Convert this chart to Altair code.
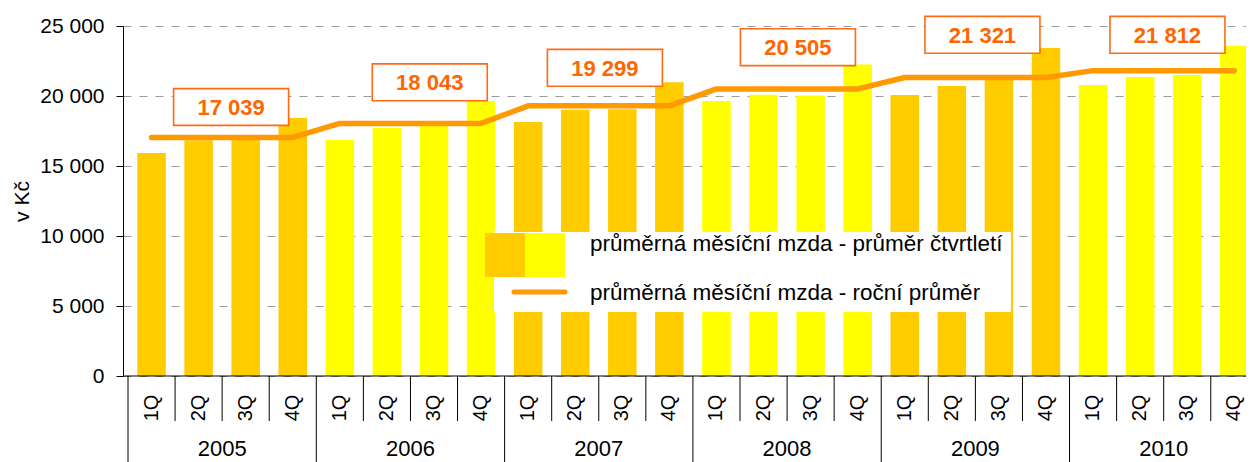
import altair as alt
import pandas as pd

# ---------------- data ----------------
years = ["2005", "2006", "2007", "2008", "2009", "2010"]
quarters = ["1Q", "2Q", "3Q", "4Q"]
quarterly_wage = [
    15930, 16840, 16950, 18430,
    16860, 17710, 17960, 19640,
    18150, 19020, 19050, 20980,
    19650, 20090, 20030, 22250,
    20070, 20710, 21140, 23430,
    20790, 21360, 21500, 23590,
]
annual_avg = [17039, 18043, 19299, 20505, 21321, 21812]
# anchor of the value boxes (quarter index, value units)
label_anchor_q = [1.69, 5.91, 9.63, 13.73, 17.65, 21.58]
label_anchor_value = [19214, 20979, 22014, 23486, 24371, 24371]
legend_labels = [
    "průměrná měsíční mzda - průměr čtvrtletí",
    "průměrná měsíční mzda - roční průměr",
]
y_title = "v Kč"
y_ticks = [0, 5000, 10000, 15000, 20000, 25000]

# ---------------- tables ----------------
rows = []
for yi, yr in enumerate(years):
    for qi, q in enumerate(quarters):
        i = yi * 4 + qi
        rows.append(dict(idx=i, year=yr, quarter=q, wage=quarterly_wage[i],
                         avg=annual_avg[yi], shade="a" if yi % 2 == 0 else "b"))
df = pd.DataFrame(rows)

lab = pd.DataFrame(dict(
    idx=label_anchor_q,
    wage=label_anchor_value,
    text=[f"{v:,}".replace(",", " ") for v in annual_avg],
))
yr_df = pd.DataFrame(dict(idx=[yi * 4 + 1.5 for yi in range(len(years))], year=years))
qsep = pd.DataFrame(dict(idx=[i + 0.5 for i in range(len(quarterly_wage)) if i % 4 != 3]))
ysep = pd.DataFrame(dict(idx=[yi * 4 - 0.5 for yi in range(len(years))]))

W, H = 1123, 350
STEP = 47.5
FONT = "Liberation Sans"

xscale = alt.Scale(domain=[-0.5, -0.5 + W / STEP], nice=False, zero=False)
yscale = alt.Scale(domain=[0, 25000], nice=False, zero=True)
X = alt.X("idx:Q", scale=xscale, axis=None)
yaxis = alt.Axis(
    values=y_ticks,
    labelExpr="replace(format(datum.value, ','), ',', ' ')",
    title=y_title, titleFont=FONT, titleFontSize=21, titleFontWeight="normal",
    titleColor="black", titleAngle=270, titleX=-95, titleY=H / 2,
    titleAlign="center", titleBaseline="alphabetic",
    labelFont=FONT, labelFontSize=21, labelColor="black", labelPadding=12,
    tickSize=7, tickColor="black", tickWidth=1, domainColor="black", domainWidth=1,
    grid=True, gridColor="#9a9a9a", gridDash=[8, 8], gridWidth=1,
)


def Y(field):
    return alt.Y(f"{field}:Q", scale=yscale, axis=yaxis, title=y_title)


bars = alt.Chart(df).mark_bar(size=28.5).encode(
    x=X, y=Y("wage"),
    color=alt.Color("shade:N", scale=alt.Scale(domain=["a", "b"], range=["#FFCC00", "#FFFF00"]), legend=None),
)

line = alt.Chart(df).mark_line(color="#FF9900", strokeWidth=5.5, strokeCap="round", strokeJoin="round").encode(
    x=X, y=Y("avg"),
)

one = pd.DataFrame(dict(k=[0]))
leg_box = alt.Chart(one).mark_rect(color="white").encode(
    x=alt.value(371), x2=alt.value(888), y=alt.value(206), y2=alt.value(286))
leg_sw1 = alt.Chart(one).mark_rect(color="#FFCC00").encode(
    x=alt.value(362), x2=alt.value(402), y=alt.value(207), y2=alt.value(251))
leg_sw2 = alt.Chart(one).mark_rect(color="#FFFF00").encode(
    x=alt.value(402), x2=alt.value(442), y=alt.value(207), y2=alt.value(251))
leg_line = alt.Chart(one).mark_rule(color="#FF9900", strokeWidth=5, strokeCap="round").encode(
    x=alt.value(391), x2=alt.value(442), y=alt.value(266))
leg_t1 = alt.Chart(one).mark_text(align="left", baseline="middle", fontSize=22.5, font=FONT, color="black").encode(
    x=alt.value(467), y=alt.value(218), text=alt.value(legend_labels[0]))
leg_t2 = alt.Chart(one).mark_text(align="left", baseline="middle", fontSize=22.5, font=FONT, color="black").encode(
    x=alt.value(467), y=alt.value(267), text=alt.value(legend_labels[1]))

box_path = "M-1,-0.32L1,-0.32L1,0.32L-1,0.32Z"
boxes = alt.Chart(lab).mark_point(shape=box_path, size=115 * 115, filled=True, fill="white",
                                  stroke="#FF6A13", strokeWidth=1.6, opacity=1).encode(
    x=X, y=Y("wage"))
box_text = alt.Chart(lab).mark_text(fontSize=22, fontWeight="bold", font=FONT, color="#FF6600",
                                    baseline="middle", dy=1).encode(
    x=X, y=Y("wage"), text="text:N")

base_line = alt.Chart(one).mark_rule(color="black", strokeWidth=1).encode(
    x=alt.value(0), x2=alt.value(W), y=alt.value(H))
q_seps = alt.Chart(qsep).mark_rule(color="black", strokeWidth=1).encode(
    x=X, y=alt.value(H), y2=alt.value(H + 45))
y_seps = alt.Chart(ysep).mark_rule(color="black", strokeWidth=1).encode(
    x=X, y=alt.value(H), y2=alt.value(H + 86))
q_labels = alt.Chart(df).mark_text(angle=270, fontSize=20, font=FONT, color="black",
                                   align="center", baseline="middle").encode(
    x=X, y=alt.value(H + 32), text="quarter:N")
yr_labels = alt.Chart(yr_df).mark_text(fontSize=22, font=FONT, color="black",
                                       align="center", baseline="alphabetic").encode(
    x=X, y=alt.value(H + 80), text="year:N")

chart = alt.layer(
    bars, line, leg_box, leg_sw1, leg_sw2, leg_line, leg_t1, leg_t2,
    boxes, box_text, base_line, q_seps, y_seps, q_labels, yr_labels,
).properties(
    width=W, height=H,
    autosize=alt.AutoSizeParams(type="none"),
    padding={"left": 115, "top": 18, "right": 0, "bottom": 86},
    background="white",
).configure_view(stroke=None)

chart.save("out.html", embed_options={"renderer": "svg", "actions": False})
